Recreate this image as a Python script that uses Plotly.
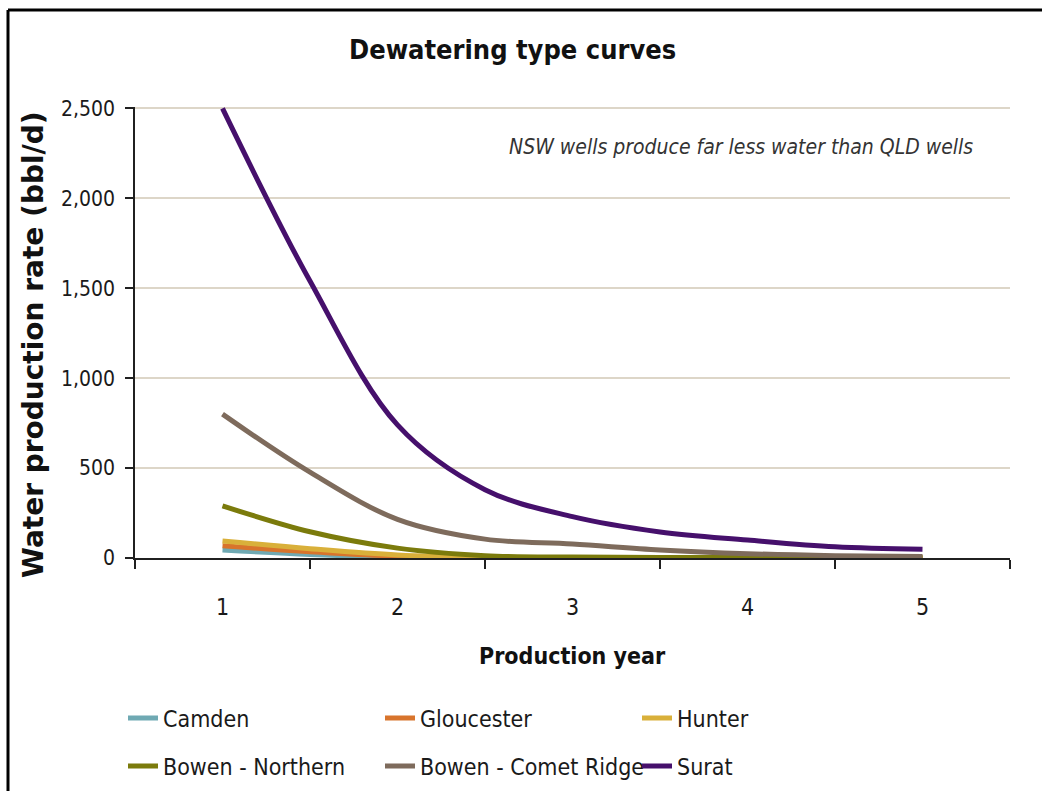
import plotly.graph_objects as go

years = [1, 1.5, 2, 2.5, 3, 3.5, 4, 4.5, 5]
series_names = ["Camden", "Gloucester", "Hunter", "Bowen - Northern", "Bowen - Comet Ridge", "Surat"]
camden = [44, 20, 3, 0, 0, 0, 0, 0, 0]
gloucester = [68, 35, 10, 1, 0, 0, 0, 0, 0]
hunter = [95, 52, 17, 3, 1, 0, 0, 0, 0]
bowen_northern = [290, 146, 55, 13, 5, 3, 3, 2, 2]
bowen_comet = [800, 477, 215, 105, 78, 45, 24, 13, 8]
surat = [2500, 1540, 740, 380, 230, 145, 100, 62, 48]
colors = ["#6fa9b3", "#d8742c", "#d9b03a", "#7b7b0c", "#7e6b5c", "#46106c"]
x_ticks = [1, 2, 3, 4, 5]
y_ticks = [0, 500, 1000, 1500, 2000, 2500]
y_tick_text = ["0", "500", "1,000", "1,500", "2,000", "2,500"]

values = [camden, gloucester, hunter, bowen_northern, bowen_comet, surat]

NARROW = "DejaVu Sans Condensed, Liberation Sans Narrow, Arial Narrow, DejaVu Sans, sans-serif"

fig = go.Figure()
for i, (name, vals, col) in enumerate(zip(series_names, values, colors)):
    fig.add_trace(go.Scatter(
        x=years, y=vals, name=name, mode="lines",
        line=dict(color=col, width=5, shape="spline", smoothing=1.0),
        legend="legend" if i < 3 else "legend2",
    ))

W, H = 1042, 791
L, R, T, B = 135, 32, 107, 233
pw, ph = W - L - R, H - T - B

def px(x):
    return (x - L) / pw

def py(y):
    return (H - B - y) / ph

leg_common = dict(orientation="h", xanchor="left", yanchor="middle",
                  font=dict(family=NARROW, size=23, color="#1a1a1a"),
                  entrywidth=212, entrywidthmode="pixels", bgcolor="rgba(0,0,0,0)",
                  itemwidth=30, traceorder="normal")

fig.update_layout(
    width=W, height=H,
    margin=dict(l=L, r=R, t=T, b=B, autoexpand=False),
    paper_bgcolor="white", plot_bgcolor="white",
    showlegend=True,
    legend=dict(x=px(123), y=py(718), **leg_common),
    legend2=dict(x=px(123), y=py(766), **leg_common),
    xaxis=dict(range=[0.5, 5.5], tickvals=x_ticks, ticktext=[str(v) for v in x_ticks],
               ticks="", showgrid=False, zeroline=False, automargin=False,
               showline=True, linecolor="#202020", linewidth=1.5,
               tickfont=dict(family=NARROW, size=23, color="#1a1a1a"),
               minor=dict(tickvals=[0.5, 1.5, 2.5, 3.5, 4.5, 5.5], ticks="outside",
                          ticklen=9, tickcolor="#202020", tickwidth=1.5, showgrid=False),
               ticklabelstandoff=28),
    yaxis=dict(range=[0, 2508], tickvals=y_ticks, ticktext=y_tick_text,
               ticks="outside", ticklen=8, tickcolor="#202020", tickwidth=1.5,
               showgrid=True, gridcolor="#ddd6c8", gridwidth=2, zeroline=False, automargin=False,
               showline=True, linecolor="#202020", linewidth=1.5,
               tickfont=dict(family=NARROW, size=21, color="#1a1a1a"),
               ticklabelstandoff=6),
    annotations=[
        dict(text="<b>Dewatering type curves</b>", xref="paper", yref="paper",
             x=px(512), y=py(50), xanchor="center", yanchor="middle", showarrow=False,
             font=dict(family=NARROW, size=27, color="#111111")),
        dict(text="<i>NSW wells produce far less water than QLD wells</i>", xref="paper", yref="paper",
             x=px(741), y=py(147), xanchor="center", yanchor="middle", showarrow=False,
             font=dict(family=NARROW, size=21, color="#333333")),
        dict(text="<b>Water production rate (bbl/d)</b>", xref="paper", yref="paper",
             x=px(33), y=py(345), xanchor="center", yanchor="middle", showarrow=False,
             textangle=-90, font=dict(family="DejaVu Sans, Verdana, sans-serif", size=28, color="#111111")),
        dict(text="<b>Production year</b>", xref="paper", yref="paper",
             x=px(572), y=py(656), xanchor="center", yanchor="middle", showarrow=False,
             font=dict(family=NARROW, size=23, color="#111111")),
    ],
    shapes=[
        dict(type="line", xref="paper", yref="paper", x0=px(8), x1=px(8), y0=py(10), y1=py(800),
             line=dict(color="black", width=3)),
        dict(type="line", xref="paper", yref="paper", x0=px(8), x1=px(1050), y0=py(10), y1=py(10),
             line=dict(color="black", width=3)),
    ],
)

post = (
    "var s=document.createElement('style');"
    "s.textContent='html,body{margin:0!important;padding:0!important;overflow:hidden!important;"
    "width:1042px;height:791px;font-size:0;line-height:0;}"
    "body>div{display:block;height:791px;overflow:hidden;font-size:0;line-height:0;}"
    ".plotly-graph-div{display:block;}';"
    "document.head.appendChild(s);"
)
fig.write_html("out.html", config={"displayModeBar": False}, post_script=post)
